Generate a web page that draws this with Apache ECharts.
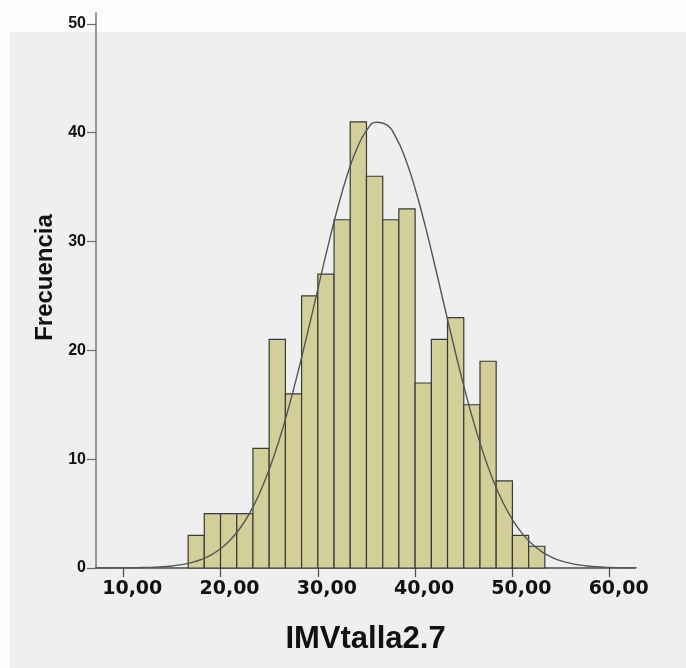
<!DOCTYPE html>
<html lang="es">
<head>
    <meta charset="UTF-8">
    <title>Histograma IMVtalla2.7</title>
    <script src="https://cdn.jsdelivr.net/npm/echarts@6/dist/echarts.min.js"></script>
    <style>
        html, body { margin: 0; padding: 0; background: #fcfcfc; }
        #chart { width: 686px; height: 668px; }
    </style>
</head>
<body>
    <div id="chart"></div>

    <script>
        // Bin edges of the histogram (IMVtalla2.7)
        var binEdges = [16.67, 18.33, 20, 21.67, 23.33, 25, 26.67, 28.33, 30, 31.67, 33.33, 35,
                        36.67, 38.33, 40, 41.67, 43.33, 45, 46.67, 48.33, 50, 51.67, 53.33];

        // Frecuencia per bin
        var counts = [3, 5, 5, 5, 11, 21, 16, 25, 27, 32, 41, 36, 32, 33, 17, 21, 23, 15, 19, 8, 3, 2];

        // Normal curve
        var curveX = [7, 8, 9, 10, 11, 12, 13, 14, 15, 16, 17, 18, 19, 20, 21, 22, 23, 24, 25, 26, 27, 28, 29,
                      30, 31, 32, 33, 34, 35, 36, 37, 38, 39, 40, 41, 42, 43, 44, 45, 46, 47, 48, 49, 50,
                      51, 52, 53, 54, 55, 56, 57, 58, 59, 60, 61, 62, 63];
        var curveY = [0, 0, 0.01, 0.01, 0.02, 0.04, 0.07, 0.11, 0.19, 0.31, 0.5, 0.78, 1.19, 1.77, 2.57, 3.65,
                      5.06, 6.84, 9.05, 11.68, 14.73, 18.14, 21.82, 25.63, 29.41, 32.94, 36.04, 38.51, 40.19,
                      40.96, 40.76, 39.62, 37.61, 34.87, 31.57, 27.91, 24.1, 20.33, 16.74, 13.46, 10.58, 8.11,
                      6.08, 4.45, 3.18, 2.22, 1.51, 1.01, 0.65, 0.42, 0.26, 0.16, 0.09, 0.05, 0.03, 0.02, 0.01];

        var xTicks = [10, 20, 30, 40, 50, 60];
        var yTicks = [0, 10, 20, 30, 40, 50];

        var barData = counts.map(function (c, i) {
            return [binEdges[i], binEdges[i + 1], c];
        });
        var curveData = curveX.map(function (x, i) {
            return [x, curveY[i]];
        });

        var chart = echarts.init(document.getElementById('chart'));

        var option = {
            backgroundColor: '#fcfcfc',
            animation: false,
            graphic: [{
                type: 'rect',
                z: -10,
                silent: true,
                shape: { x: 10, y: 32, width: 676, height: 636 },
                style: { fill: '#efefef' }
            }],
            grid: { left: 96, right: 51, top: 13, bottom: 100 },
            xAxis: {
                type: 'value',
                min: 7.2,
                max: 62.6,
                name: 'IMVtalla2.7',
                nameLocation: 'middle',
                nameGap: 56,
                nameTextStyle: {
                    fontFamily: 'Liberation Sans',
                    fontWeight: 'bold',
                    fontSize: 31,
                    color: '#111'
                },
                splitLine: { show: false },
                axisLine: { lineStyle: { color: '#4a4a4a', width: 1.5 } },
                axisTick: {
                    show: true,
                    customValues: xTicks,
                    length: 9,
                    lineStyle: { color: '#4a4a4a', width: 1.2 }
                },
                axisLabel: {
                    customValues: xTicks,
                    margin: 12,
                    padding: [0, 0, 0, 18],
                    fontFamily: 'DejaVu Sans',
                    fontWeight: 'bold',
                    fontSize: 19,
                    color: '#111',
                    formatter: function (v) { return v.toFixed(2).replace('.', ','); }
                }
            },
            yAxis: {
                type: 'value',
                min: 0,
                max: 51,
                name: 'Frecuencia',
                nameLocation: 'middle',
                nameGap: 28,
                nameTextStyle: {
                    fontFamily: 'Liberation Sans',
                    fontWeight: 'bold',
                    fontSize: 24,
                    color: '#111',
                    padding: [0, 0, 0, 26]
                },
                splitLine: { show: false },
                axisLine: { show: true, lineStyle: { color: '#7a7a7a', width: 1.5 } },
                axisTick: {
                    show: true,
                    customValues: yTicks,
                    length: 9,
                    lineStyle: { color: '#6a6a6a', width: 1.2 }
                },
                axisLabel: {
                    customValues: yTicks,
                    margin: 10,
                    fontFamily: "'Liberation Sans Narrow', 'Liberation Sans', sans-serif",
                    fontWeight: 'bold',
                    fontSize: 16,
                    color: '#111'
                }
            },
            series: [
                {
                    type: 'custom',
                    data: barData,
                    encode: { x: [0, 1], y: 2 },
                    renderItem: function (params, api) {
                        var base = api.coord([api.value(0), 0]);
                        var top = api.coord([api.value(1), api.value(2)]);
                        return {
                            type: 'rect',
                            shape: {
                                x: base[0],
                                y: top[1],
                                width: top[0] - base[0],
                                height: base[1] - top[1]
                            },
                            style: { fill: '#d4cf9a', stroke: '#3a3a32', lineWidth: 1.2 }
                        };
                    }
                },
                {
                    type: 'line',
                    data: curveData,
                    smooth: true,
                    showSymbol: false,
                    z: 5,
                    lineStyle: { color: '#555', width: 1.4 }
                }
            ]
        };

        chart.setOption(option);
    </script>
</body>
</html>
